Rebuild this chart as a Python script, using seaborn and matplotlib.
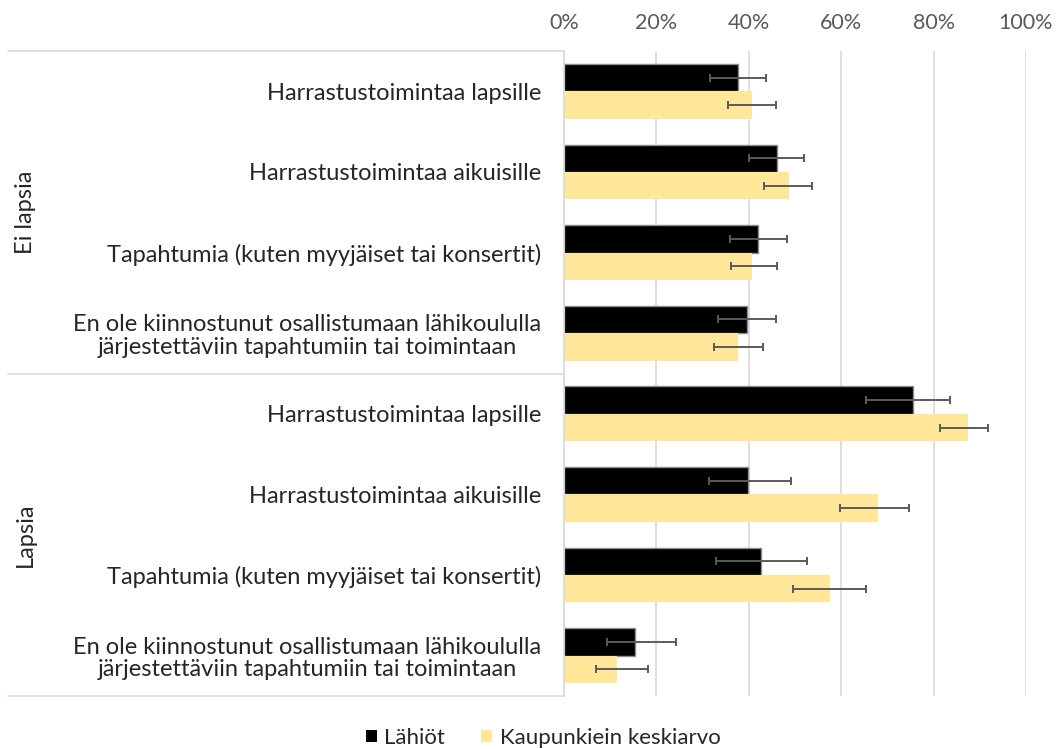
import matplotlib
matplotlib.use("Agg")
import matplotlib.pyplot as plt
import matplotlib.transforms as mtransforms
from matplotlib.patches import Patch
import seaborn as sns
import pandas as pd
import numpy as np

groups = ["Ei lapsia", "Lapsia"]
categories = [
    "Harrastustoimintaa lapsille",
    "Harrastustoimintaa aikuisille",
    "Tapahtumia (kuten myyjäiset tai konsertit)",
    "En ole kiinnostunut osallistumaan lähikoululla\njärjestettäviin tapahtumiin tai toimintaan",
]
series = ["Lähiöt", "Kaupunkiein keskiarvo"]

lahiot = [37.6, 46.1, 42.0, 39.6, 75.6, 39.9, 42.7, 15.3]
lahiot_low = [31.7, 40.0, 35.9, 33.4, 65.3, 31.3, 33.0, 9.4]
lahiot_high = [43.7, 52.0, 48.2, 45.8, 83.5, 49.2, 52.7, 24.2]
kaupunki = [40.8, 48.7, 40.8, 37.7, 87.5, 67.9, 57.6, 11.4]
kaupunki_low = [35.5, 43.3, 36.2, 32.4, 81.4, 59.8, 49.5, 7.0]
kaupunki_high = [45.8, 53.7, 46.2, 43.1, 91.8, 74.6, 65.4, 18.1]
xticks = [0, 20, 40, 60, 80, 100]
xticklabels = ["0%", "20%", "40%", "60%", "80%", "100%"]

sns.set_style("white")
plt.rcParams["font.family"] = ["Lato", "DejaVu Sans"]

keys = [f"{g}|{c}" for g in groups for c in categories]
labels = [c for g in groups for c in categories]
rows = []
for i, k in enumerate(keys):
    rows.append({"key": k, "series": series[0], "value": lahiot[i],
                 "low": lahiot_low[i], "high": lahiot_high[i]})
    rows.append({"key": k, "series": series[1], "value": kaupunki[i],
                 "low": kaupunki_low[i], "high": kaupunki_high[i]})
df = pd.DataFrame(rows)

fig = plt.figure(figsize=(10.56, 7.49), dpi=100)
ax = fig.add_axes([564 / 1056, 53 / 749, 462 / 1056, 645 / 749])

palette = {series[0]: "#000000", series[1]: "#FFE699"}
sns.barplot(data=df, x="value", y="key", hue="series", order=keys,
            hue_order=series, palette=palette, orient="h", width=0.68,
            errorbar=None, saturation=1, legend=False, ax=ax)

# style bars & add error bars
n = len(keys)
patches = ax.patches
for j, s in enumerate(series):
    sub = df[df["series"] == s].set_index("key").loc[keys]
    bars = patches[j * n:(j + 1) * n]
    ys, vals, lo, hi = [], [], [], []
    for b, (_, r) in zip(bars, sub.iterrows()):
        if j == 0:
            b.set_edgecolor("#8c8c8c")
            b.set_linewidth(1.0)
        else:
            b.set_edgecolor("none")
        ys.append(b.get_y() + b.get_height() / 2)
        vals.append(r["value"])
        lo.append(r["value"] - r["low"])
        hi.append(r["high"] - r["value"])
    ax.errorbar(vals, ys, xerr=[lo, hi], fmt="none", ecolor="#5a5a5a",
                elinewidth=1.4, capsize=3.2, capthick=1.4, zorder=5)

ax.set_xlim(0, 100)
ax.set_ylim(n - 0.5, -0.5)
ax.set_xticks(xticks)
ax.set_xticklabels(xticklabels)
ax.xaxis.tick_top()
ax.tick_params(axis="x", length=0, pad=13, labelsize=15.5, labelcolor="#595959")
ax.set_yticks(range(n))
ax.set_yticklabels(labels, multialignment="center", linespacing=1.1)
ax.tick_params(axis="y", length=0, pad=16.5, labelsize=17, labelcolor="#262626")
ax.set_xlabel("")
ax.set_ylabel("")
ax.grid(axis="x", color="#d9d9d9", linewidth=1.2)
ax.set_axisbelow(True)
for sp in ["top", "right", "bottom"]:
    ax.spines[sp].set_visible(False)
ax.spines["left"].set_color("#d9d9d9")
ax.spines["left"].set_linewidth(1.2)

# category box lines
trans = mtransforms.blended_transform_factory(fig.transFigure, ax.transData)
x0 = 8 / 1056
x1 = 564 / 1056
for yv in [-0.5, 3.5, 7.5]:
    ax.plot([x0, x1], [yv, yv], transform=trans, color="#d9d9d9",
            linewidth=1.2, clip_on=False)

for gi, g in enumerate(groups):
    ax.text(25 / 1056, gi * 4 + 1.5, g, transform=trans, rotation=90,
            ha="center", va="center", fontsize=17, color="#262626")

handles = [Patch(facecolor=palette[s], edgecolor="none") for s in series]
fig.legend(handles, series, loc="center", bbox_to_anchor=(543 / 1056, 1 - 738 / 749),
           ncol=2, frameon=False, fontsize=16, handlelength=0.5, handleheight=0.5,
           handletextpad=0.35, columnspacing=1.6, labelcolor="#262626")

fig.savefig("out.png", dpi=100, facecolor="white")
